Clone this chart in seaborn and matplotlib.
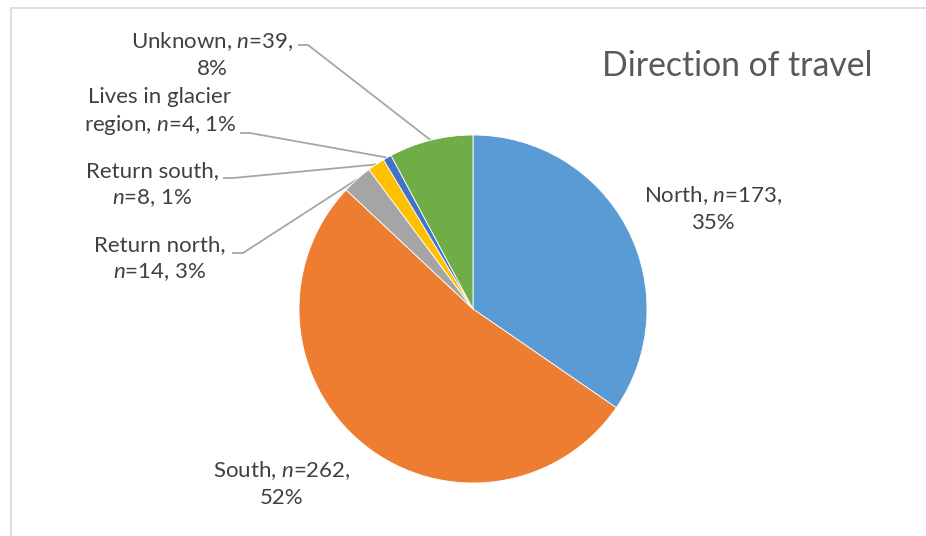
import numpy as np
import matplotlib
matplotlib.use("Agg")
import matplotlib.pyplot as plt
import seaborn as sns

# Survey responses: direction of travel
categories = ["North", "South", "Return north", "Return south",
              "Lives in glacier region", "Unknown"]
counts = [173, 262, 14, 8, 4, 39]
percent_labels = [35, 52, 3, 1, 1, 8]
label_names = ["North", "South", "Return north", "Return south",
               "Lives in glacier\nregion", "Unknown"]

sns.set_theme(style="white")
plt.rcParams["font.family"] = ["Lato", "DejaVu Sans"]
plt.rcParams["mathtext.fontset"] = "custom"
plt.rcParams["mathtext.rm"] = "Lato"
plt.rcParams["mathtext.it"] = "Lato:italic"

colors = ["#5B9BD5", "#ED7D31", "#A5A5A5", "#FFC000", "#4472C4", "#70AD47"]

W, H = 926, 536
fig = plt.figure(figsize=(W / 100, H / 100), dpi=100)
ax = fig.add_axes([0, 0, 1, 1])


def py(y):
    """Convert a top-down pixel row into the axes' y coordinate."""
    return H - y


cx, cy, R = 473, py(309), 174
wedges, _ = ax.pie(counts, colors=colors, startangle=90, counterclock=False,
                   center=(cx, cy), radius=R,
                   wedgeprops=dict(edgecolor="white", linewidth=0.6))
ax.set_xlim(0, W)
ax.set_ylim(0, H)
ax.set_aspect("equal")
ax.axis("off")

text_color = "#404040"
fs = 16


def label_text(i, style):
    name, n, p = label_names[i], counts[i], percent_labels[i]
    if style == "pct_below":
        return f"{name}, $n$={n},\n{p}%"
    if style == "n_below":
        return f"{name},\n$n$={n}, {p}%"
    return f"{name}, $n$={n}, {p}%"


labels = {
    "North": (label_text(0, "pct_below"), 713, 209),
    "South": (label_text(1, "pct_below"), 282, 484),
    "Return north": (label_text(2, "n_below"), 160, 259),
    "Return south": (label_text(3, "n_below"), 152, 185),
    "Lives in glacier region": (label_text(4, "inline"), 160, 112),
    "Unknown": (label_text(5, "pct_below"), 212, 55),
}
for name, (txt, x, y) in labels.items():
    ax.text(x, py(y), txt, ha="center", va="center", fontsize=fs,
            color=text_color, linespacing=1.38)

# Leader lines from small slices to their labels
leader_start = {
    "Unknown": (298, 308, 45),
    "Lives in glacier region": (240, 250, 133),
    "Return south": (223, 233, 178),
    "Return north": (232, 243, 253),
}
for name, (x0, x1, y0) in leader_start.items():
    w = wedges[categories.index(name)]
    mid = np.deg2rad((w.theta1 + w.theta2) / 2)
    ex, ey = cx + R * np.cos(mid), cy + R * np.sin(mid)
    ax.plot([x0, x1, ex], [py(y0), py(y0), ey], color="#A6A6A6", lw=1.3,
            solid_capstyle="butt", zorder=0)

ax.text(737, py(76), "Direction of travel", ha="center", va="baseline",
        fontsize=24.3, color="#595959")

# Chart-area frame (left and top edges)
ax.plot([10.5, 10.5, W], [0, py(7.5), py(7.5)], color="#D9D9D9", lw=1.2,
        solid_capstyle="butt")

fig.savefig("out.png", dpi=100)
